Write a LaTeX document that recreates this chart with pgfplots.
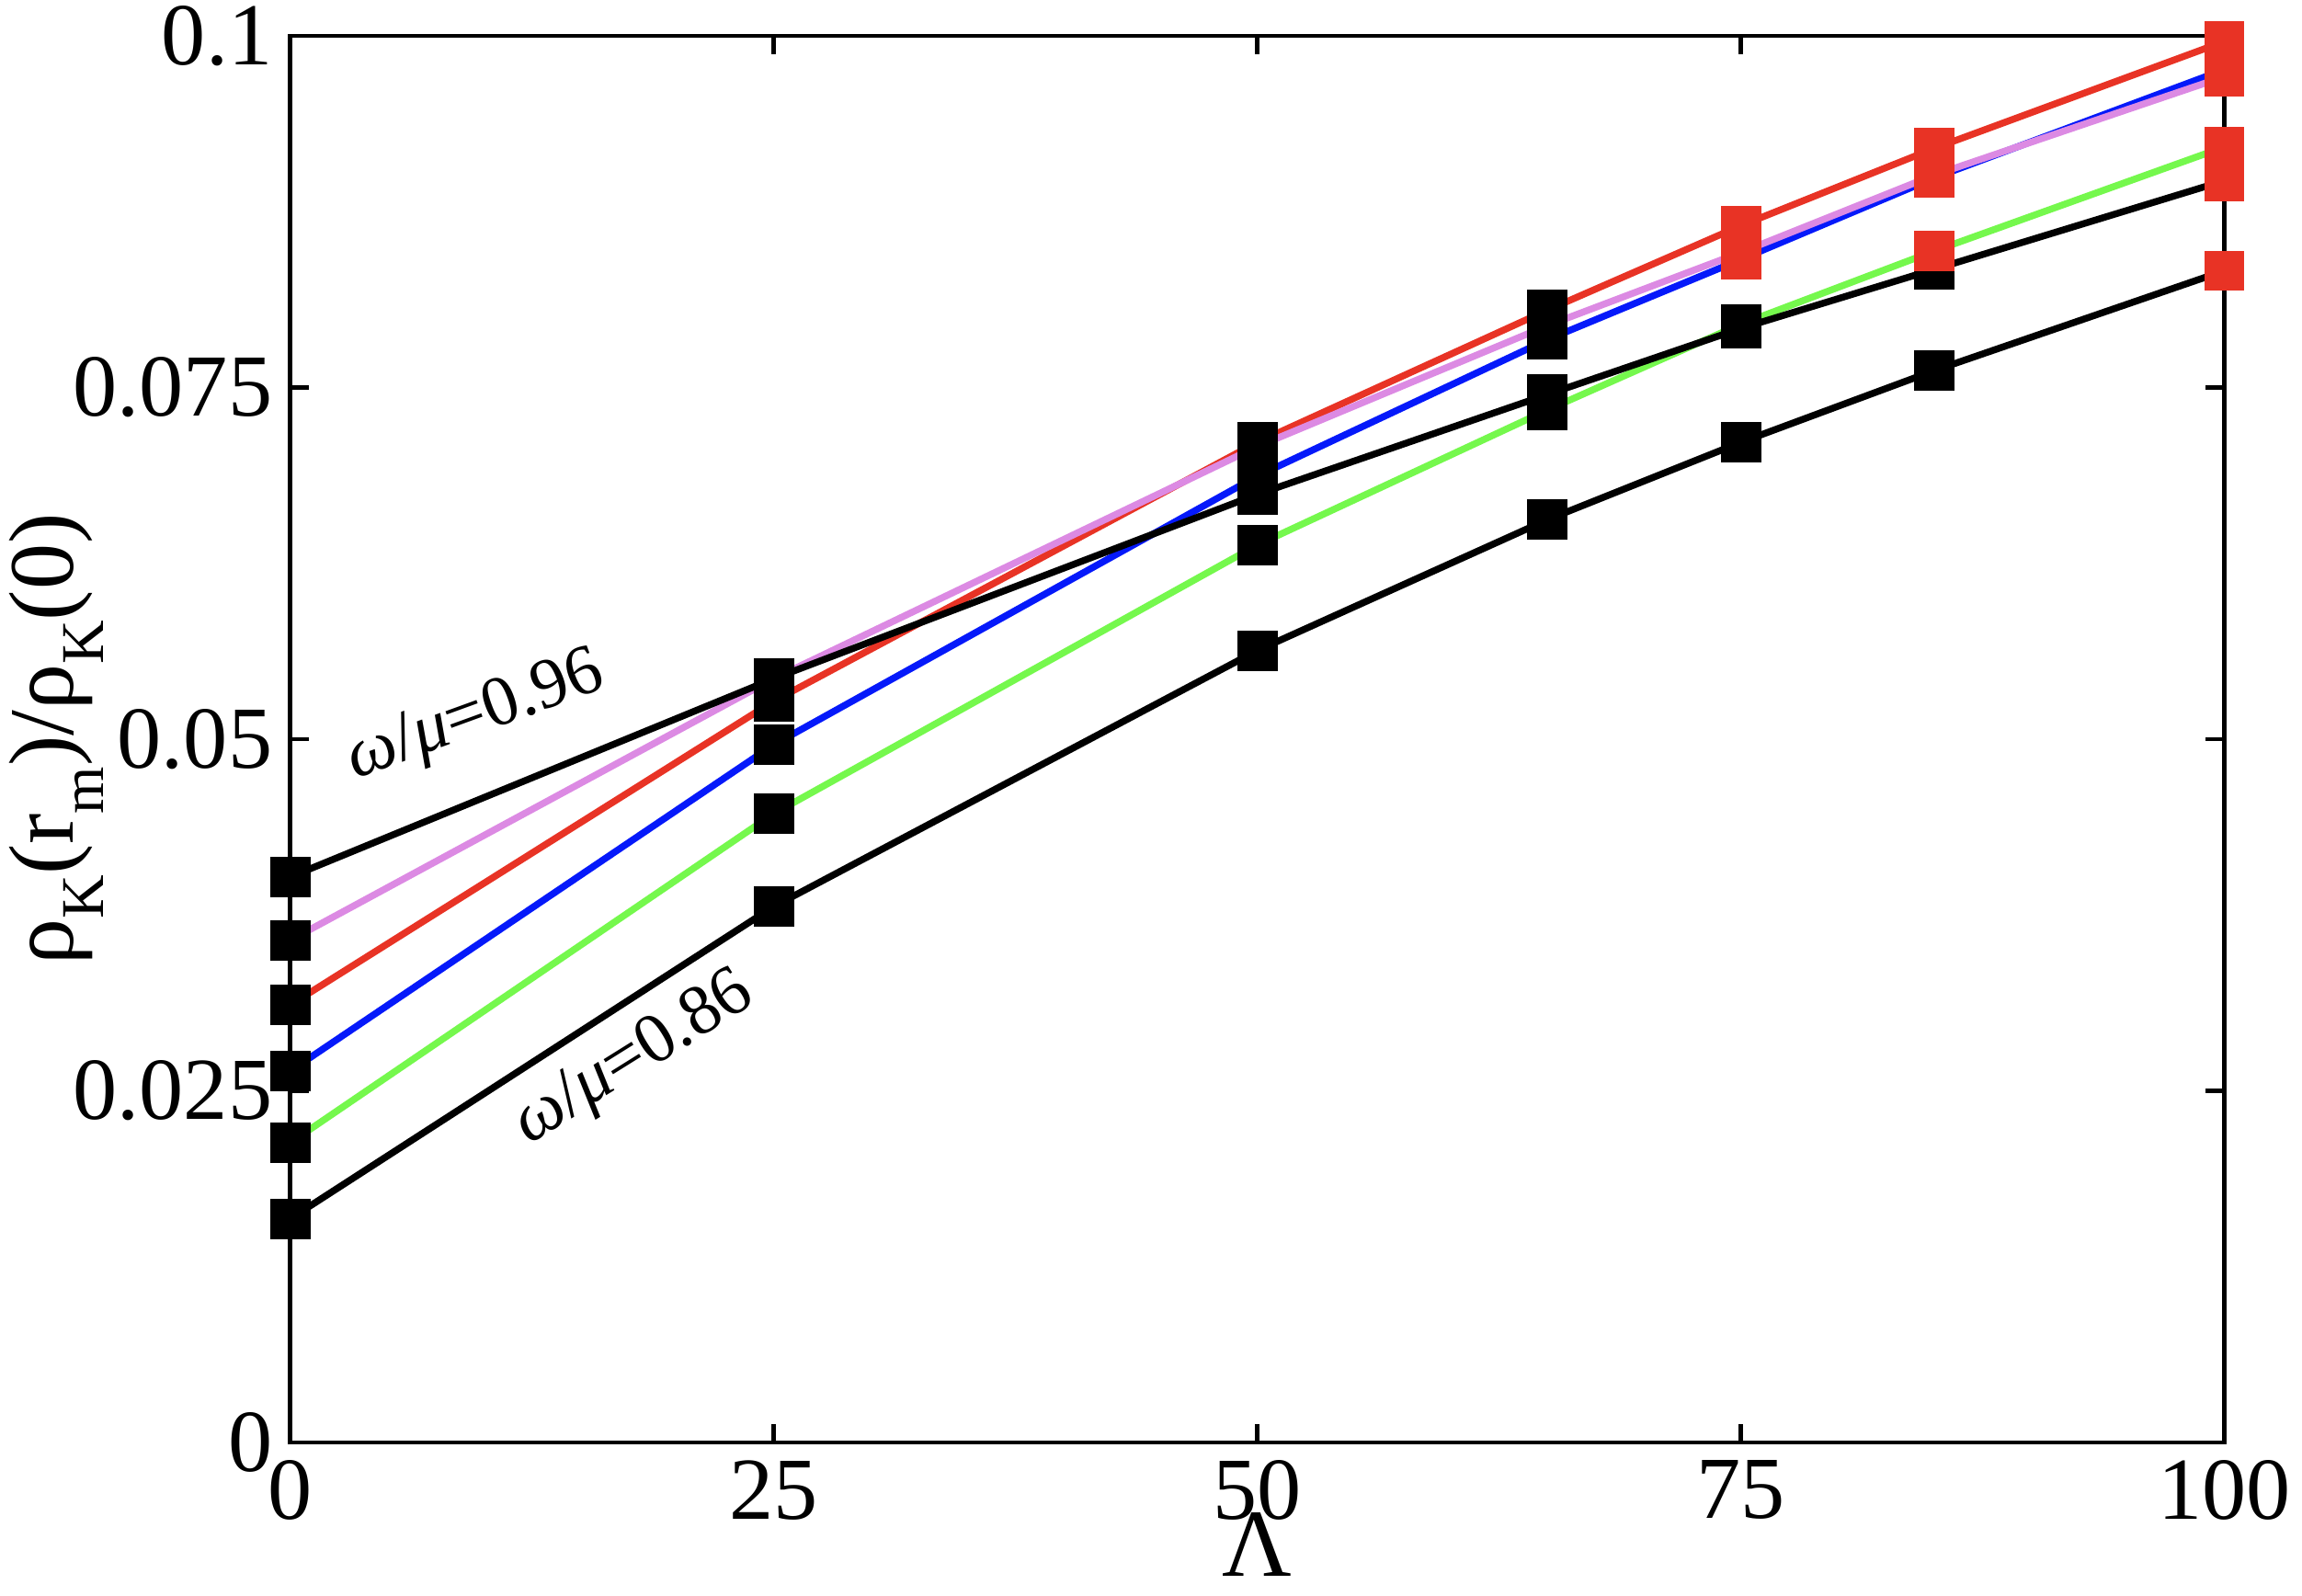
\documentclass[border=0pt]{standalone}
\usepackage{fontspec}
\setmainfont{Liberation Serif}
\usepackage{pgfplots}
\pgfplotsset{compat=1.18}
\usepackage{pgfplotstable}
\definecolor{cred}{RGB}{232,51,37}
\definecolor{cviolet}{RGB}{220,138,227}
\definecolor{cblue}{RGB}{5,25,250}
\definecolor{cgreen}{RGB}{117,248,77}

\pgfplotstableread{
x s1 s2 s3 s4 s5 s6
0 0.0159 0.0213 0.0264 0.0311 0.0357 0.0402
25 0.0381 0.0447 0.0496 0.0527 0.0543 0.0543
50 0.0563 0.0638 0.0687 0.0711 0.0708 0.0674
65 0.0656 0.0734 0.0784 0.0805 0.0794 0.0745
75 0.0711 0.0795 0.0841 0.0865 0.0846 0.0792
85 0.0762 0.0847 0.0899 0.0920 0.0901 0.0834
100 0.0833 0.0921 0.0976 0.0996 0.0971 0.0897
}\data

\pgfplotstableread{
x y
75 0.0841
75 0.0846
75 0.0865
85 0.0847
85 0.0899
85 0.0901
85 0.0920
100 0.0833
100 0.0897
100 0.0921
100 0.0971
100 0.0976
100 0.0996
}\reddata

\newcommand\sub[1]{\raisebox{-0.33em}{\fontsize{12}{12}\selectfont #1}}

\begin{document}
\begin{tikzpicture}
\useasboundingbox (-2.017,-1.067) rectangle (13.984,10.026);
\begin{axis}[
  at={(0,0)}, anchor=south west,
  scale only axis, width=13.444cm, height=9.777cm,
  xmin=0, xmax=100, ymin=0, ymax=0.1,
  xtick={0,25,50,75,100}, xticklabels={0,25,50,75,100},
  ytick={0,0.025,0.05,0.075,0.1}, yticklabels={0,0.025,0.05,0.075,0.1},
  scaled y ticks=false,
  minor tick num=0,
  tick align=inside, major tick length=0.13cm,
  axis line style={line width=0.85pt, black},
  every tick/.style={black, line width=0.85pt},
  tick label style={font=\fontsize{17.5}{19}\selectfont},
  /pgf/number format/assume math mode=true,
  clip=false,
  xlabel={Λ}, ylabel={ρ\sub{K}(r\sub{m})/ρ\sub{K}(0)},
  every axis x label/.style={at={(axis description cs:0.5,-0.0725)}, anchor=center, font=\fontsize{19}{21}\selectfont},
  every axis y label/.style={at={(axis description cs:-0.121,0.5)}, anchor=center, rotate=90, font=\fontsize{18.2}{20}\selectfont},
]
\addplot[black, line width=1.35pt, no marks] table[x=x, y=s1] {\data};
\addplot[cgreen, line width=1.35pt, no marks] table[x=x, y=s2] {\data};
\addplot[cblue, line width=1.35pt, no marks] table[x=x, y=s3] {\data};
\addplot[cred, line width=1.35pt, no marks] table[x=x, y=s4] {\data};
\addplot[cviolet, line width=1.35pt, no marks] table[x=x, y=s5] {\data};
\addplot[black, line width=1.35pt, no marks] table[x=x, y=s6] {\data};
\pgfplotsinvokeforeach{s1,s2,s3,s4,s5,s6}{
  \addplot[only marks, mark=square*, mark size=3.9pt, mark options={fill=black, draw=black, line width=0pt}] table[x=x, y=#1] {\data};
}
\addplot[only marks, mark=square*, mark size=3.9pt, mark options={fill=cred, draw=cred, line width=0pt}] table[x=x, y=y] {\reddata};
\node[rotate=20, font=\fontsize{14}{16}\selectfont] at (axis cs:9.6,0.0515) {\textit{ω}/\textit{μ}=0.96};
\node[rotate=32, font=\fontsize{14}{16}\selectfont] at (axis cs:17.8,0.0272) {\textit{ω}/\textit{μ}=0.86};
\end{axis}
\end{tikzpicture}
\end{document}
